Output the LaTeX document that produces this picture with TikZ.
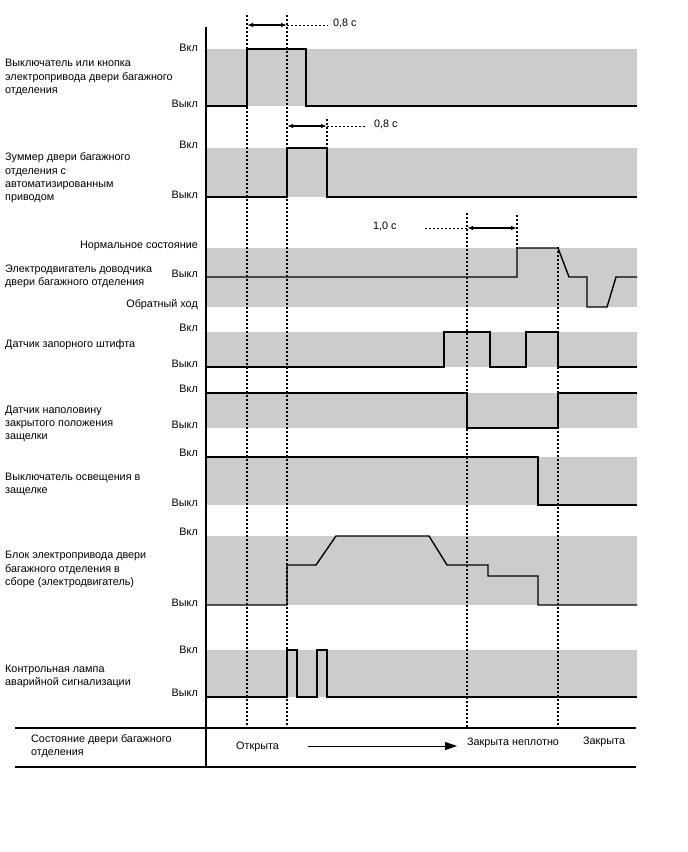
\documentclass[tikz,border=0pt]{standalone}
\usepackage{fontspec}
\setmainfont{Liberation Sans}
\usetikzlibrary{arrows.meta}
\begin{document}
\begin{tikzpicture}[x=1pt,y=-1pt,
  band/.style={fill=gray!40, draw=none},
  sig/.style={line width=1.4pt, line join=miter},
  vdot/.style={line width=1.1pt, dash pattern=on 2pt off 2pt},
  hdash/.style={line width=0.7pt, dash pattern=on 2pt off 2pt},
  lbl/.style={font=\fontsize{10.8}{13.3}\selectfont, align=left, anchor=west, inner sep=0pt},
  lvl/.style={font=\fontsize{10.8}{12}\selectfont, anchor=east, inner sep=0pt},
  txt/.style={font=\fontsize{10.8}{12}\selectfont, anchor=west, inner sep=0pt},
  dimarrow/.style={line width=1.2pt, {Latex[length=6pt,width=4.5pt]}-{Latex[length=6pt,width=4.5pt]}},
]
\useasboundingbox (0,0) rectangle (688,852);

% gray bands
\fill[band] (207,49) rectangle (637,106);
\fill[band] (207,148) rectangle (637,197);
\fill[band] (207,248) rectangle (637,307);
\fill[band] (207,332) rectangle (637,367);
\fill[band] (207,393) rectangle (637,428);
\fill[band] (207,457) rectangle (637,505);
\fill[band] (207,536) rectangle (637,605);
\fill[band] (207,650) rectangle (637,697);

% vertical dotted time markers
\draw[vdot] (247,15) -- (247,728);
\draw[vdot] (287,15) -- (287,728);
\draw[vdot] (327,119) -- (327,148);
\draw[vdot] (467,213) -- (467,728);
\draw[vdot] (517,215) -- (517,248);
\draw[vdot] (558,247) -- (558,728);

% axis and table
\draw[line width=2pt] (206,27) -- (206,768);
\draw[line width=1.5pt] (15,728) -- (636,728);
\draw[line width=1.5pt] (15,767) -- (636,767);

% signals
\draw[sig] (207,106) -- (247,106) -- (247,49) -- (306,49) -- (306,106) -- (637,106);
\draw[sig] (207,197) -- (287,197) -- (287,148) -- (327,148) -- (327,197) -- (637,197);
\draw[sig] (207,277) -- (517,277) -- (517,248) -- (558,248) -- (569,277) -- (587,277)
  -- (587,307) -- (607,307) -- (616,277) -- (637,277);
\draw[sig] (207,367) -- (444,367) -- (444,332) -- (490,332) -- (490,367) -- (526,367)
  -- (526,332) -- (558,332) -- (558,367) -- (637,367);
\draw[sig] (207,393) -- (467,393) -- (467,428) -- (558,428) -- (558,393) -- (637,393);
\draw[sig] (207,457) -- (538,457) -- (538,505) -- (637,505);
\draw[sig] (207,605) -- (287,605) -- (287,565) -- (316,565) -- (336,536) -- (429,536)
  -- (447,565) -- (488,565) -- (488,576) -- (538,576) -- (538,605) -- (637,605);
\draw[sig] (207,697) -- (287,697) -- (287,650) -- (297,650) -- (297,697) -- (317,697)
  -- (317,650) -- (327,650) -- (327,697) -- (637,697);

% time dimensions
\coordinate (d1a) at (247,25); \coordinate (d1b) at (287,25); \coordinate (d1c) at (328,25);
\draw[dimarrow] (d1a) -- (d1b);
\draw[hdash] (d1b) -- (d1c);
\node[txt] (t1) at (333,23) {0,8 с};
\coordinate (d2a) at (287,126); \coordinate (d2b) at (327,126); \coordinate (d2c) at (366,126);
\draw[dimarrow] (d2a) -- (d2b);
\draw[hdash] (d2b) -- (d2c);
\node[txt] (t2) at (374,124) {0,8 с};
\coordinate (d3a) at (467,228); \coordinate (d3b) at (517,228); \coordinate (d3c) at (425,228);
\draw[dimarrow] (d3a) -- (d3b);
\draw[hdash] (d3c) -- (d3a);
\node[txt] (t3) at (373,226) {1,0 с};

% row labels
\node[lbl] (r1) at (5,77.5) {Выключатель или кнопка\\электропривода двери багажного\\отделения};
\node[lbl] (r2) at (5,178) {Зуммер двери багажного\\отделения с\\автоматизированным\\приводом};
\node[lbl] (r3) at (5,276.5) {Электродвигатель доводчика\\двери багажного отделения};
\node[lbl] (r4) at (5,345) {Датчик запорного штифта};
\node[lbl] (r5) at (5,424) {Датчик наполовину\\закрытого положения\\защелки};
\node[lbl] (r6) at (5,484.5) {Выключатель освещения в\\защелке};
\node[lbl] (r7) at (5,569.5) {Блок электропривода двери\\багажного отделения в\\сборе (электродвигатель)};
\node[lbl] (r8) at (5,676.5) {Контрольная лампа\\аварийной сигнализации};

% level labels
\node[lvl] (on1) at (198,48) {Вкл};
\node[lvl] (off1) at (198,104) {Выкл};
\node[lvl] (on2) at (198,145) {Вкл};
\node[lvl] (off2) at (198,195) {Выкл};
\node[lvl] (norm3) at (198,246) {Нормальное состояние};
\node[lvl] (off3) at (198,274) {Выкл};
\node[lvl] (rev3) at (198,305) {Обратный ход};
\node[lvl] (on4) at (198,328) {Вкл};
\node[lvl] (off4) at (198,364) {Выкл};
\node[lvl] (on5) at (198,389) {Вкл};
\node[lvl] (off5) at (198,425) {Выкл};
\node[lvl] (on6) at (198,453) {Вкл};
\node[lvl] (off6) at (198,503) {Выкл};
\node[lvl] (on7) at (198,532) {Вкл};
\node[lvl] (off7) at (198,603) {Выкл};
\node[lvl] (on8) at (198,650) {Вкл};
\node[lvl] (off8) at (198,693) {Выкл};

% door state row
\node[lbl] (st) at (31,746) {Состояние двери багажного\\отделения};
\node[txt] (open) at (236,746.5) {Открыта};
\node[txt] (half) at (467,743) {Закрыта неплотно};
\node[txt] (closed) at (583,742) {Закрыта};
\coordinate (aS) at (308,746); \coordinate (aE) at (457,746);
\draw[line width=1pt, -{Triangle[length=12pt,width=8pt]}] (aS) -- (aE);
\end{tikzpicture}
\end{document}
